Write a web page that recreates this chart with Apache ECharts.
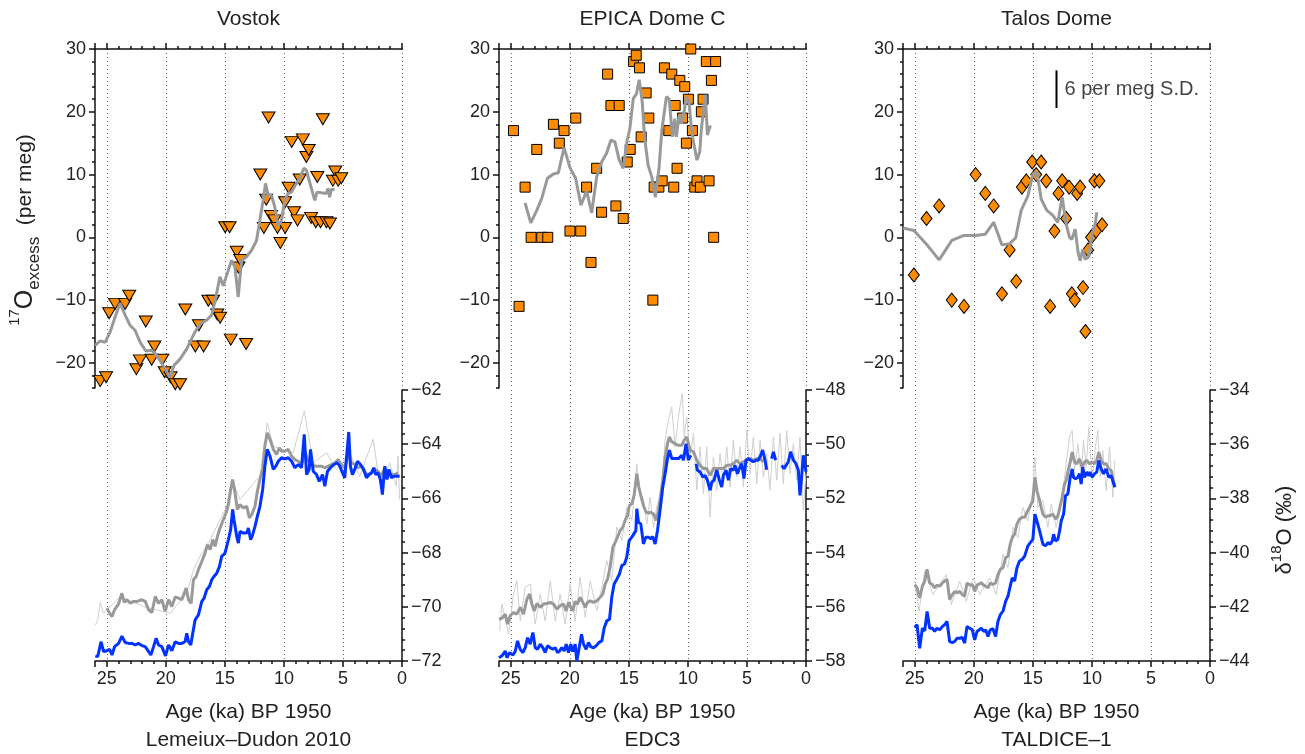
<!DOCTYPE html>
<html><head><meta charset="utf-8">
<script src="https://cdn.jsdelivr.net/npm/echarts@6/dist/echarts.min.js"></script>
<style>html,body{margin:0;padding:0;background:#fff}#c{width:1305px;height:754px}</style>
</head><body><div id="c"></div>
<script>
// ---------- tick labels ----------
const ageTicks = [0, 5, 10, 15, 20, 25];
const excessTicks = [-20, -10, 0, 10, 20, 30];
const siteNames = ['Vostok', 'EPICA Dome C', 'Talos Dome'];
const chronologies = ['Lemeiux\u2013Dudon 2010', 'EDC3', 'TALDICE\u20131'];
const d18Ranges = [[-72, -62], [-58, -48], [-44, -34]];

// ---------- 17O-excess (per meg): [age ka, value] ----------
const vostokExcess = [[25.56,-22.9],[25.06,-22.3],[24.8,-12.1],[24.3,-10.6],[23.45,-10.6],[23.1,-9.3],[21.7,-13.4],[22.5,-21.0],[22.2,-19.6],[21.2,-19.5],[20.97,-17.4],[20.3,-19.5],[20.1,-21.5],[19.6,-22.3],[19.2,-23.4],[18.8,-23.4],[18.35,-11.5],[17.5,-17.4],[17.2,-14.0],[16.8,-17.4],[16.4,-10.1],[16.0,-10.1],[15.65,-12.3],[15.4,-12.8],[14.97,1.6],[14.6,1.6],[14.5,-16.3],[14.0,-2.3],[13.85,-4.8],[13.7,-3.6],[13.2,-17.0],[12.0,10.0],[11.7,1.5],[11.5,6.0],[11.3,19.1],[11.1,3.4],[10.8,2.7],[10.55,1.5],[10.3,-0.9],[9.9,1.5],[9.9,5.6],[9.6,7.9],[9.34,15.2],[9.14,4.0],[8.85,2.7],[8.66,9.2],[8.4,15.6],[8.1,12.8],[7.9,13.9],[7.7,3.1],[7.3,2.4],[7.17,9.6],[6.9,2.4],[6.7,18.8],[6.4,2.4],[6.1,2.2],[5.85,9.0],[5.65,10.5],[5.4,9.0],[5.14,9.4]];
const vostokExcessMean = [[25.99,-17.2],[25.56,-16.5],[25.14,-16.7],[24.72,-15.1],[24.30,-12.7],[23.87,-10.5],[23.45,-12.4],[23.03,-14.0],[22.61,-14.8],[22.18,-16.7],[21.70,-18.1],[21.20,-18.0],[20.77,-18.8],[20.30,-20.2],[19.65,-22.3],[19.31,-20.4],[18.80,-19.4],[18.24,-17.8],[17.54,-15.1],[17.11,-13.8],[16.55,-13.2],[16.13,-12.4],[15.85,-10.3],[15.42,-6.3],[15.14,-7.7],[14.72,-5.3],[14.44,-3.7],[14.15,-4.7],[13.87,-9.5],[13.59,-3.7],[13.17,-3.1],[12.75,-2.1],[12.32,-0.5],[12.04,2.7],[11.76,5.9],[11.56,8.6],[11.34,6.7],[11.06,6.7],[10.77,4.8],[10.49,1.8],[10.21,2.7],[9.93,5.9],[9.65,7.0],[9.37,7.2],[8.94,8.6],[8.66,9.4],[8.32,11.0],[8.10,10.7],[7.82,8.8],[7.39,5.9],[7.20,7.2],[6.83,7.1],[6.41,7.0],[6.27,7.8],[6.13,6.4],[5.99,7.6],[5.70,7.6]];

const edcExcess = [[24.77,17],[24.3,-11],[23.79,8],[23.28,0],[22.8,14],[22.38,0],[21.87,0],[21.39,18],[20.89,15],[20.49,17],[19.99,1],[19.5,19],[19.08,1],[18.58,8],[18.21,-4],[17.73,11],[17.31,4],[16.8,26],[16.52,21],[16.1,5],[15.82,21],[15.48,3],[15.14,12],[14.89,14],[14.6,28],[14.38,29],[14.1,27],[13.96,16],[13.54,23],[13.31,19],[12.97,-10],[12.86,8],[12.46,8],[12.18,9],[11.99,27],[11.62,17],[11.37,26],[11.2,8],[11.08,21],[10.92,11],[10.69,25],[10.46,19],[10.27,24],[10.13,15],[9.96,22],[9.76,30],[9.62,17],[9.42,8],[9.23,9],[8.94,8],[8.86,20],[8.72,22],[8.44,28],[8.21,9],[8.01,25],[7.82,0],[7.65,28]];
const edcExcessMean = [[23.79,5.5],[23.31,2.3],[22.80,4.3],[22.38,6.2],[21.90,9.4],[21.39,10.1],[20.97,10.3],[20.49,14.3],[19.99,11.1],[19.51,9.4],[19.06,5.1],[18.58,7.4],[18.15,3.9],[17.73,9.6],[17.31,12.0],[16.89,13.4],[16.52,15.5],[16.18,15.2],[15.82,12.3],[15.48,11.0],[15.14,15.5],[14.92,17.3],[14.63,22.1],[14.35,22.9],[14.13,25.1],[13.87,21.6],[13.68,16.0],[13.37,11.5],[13.06,9.6],[12.75,6.4],[12.44,11.2],[12.21,17.1],[11.82,22.4],[11.59,22.0],[11.31,16.0],[11.11,18.9],[10.97,16.0],[10.75,19.5],[10.55,18.1],[10.35,19.7],[10.13,22.4],[9.90,21.6],[9.76,18.4],[9.56,15.5],[9.23,12.3],[9.00,13.6],[8.86,17.3],[8.72,17.6],[8.52,22.7],[8.35,16.3],[8.15,17.6],[8.01,17.6]];

const talosExcess = [[25.08,-6],[24.01,3],[22.94,5],[21.87,-10],[20.83,-11],[19.85,10],[19.03,7],[18.32,5],[17.62,-9],[16.97,-2],[16.41,-7],[15.93,8],[15.56,9],[15.06,12],[14.72,10],[14.3,12],[13.87,9],[13.54,-11],[13.17,1],[12.83,7],[12.52,9],[12.18,3],[11.93,8],[11.7,-9],[11.45,-10],[11.25,7],[11.0,8],[10.75,-8],[10.55,-15],[10.32,-2],[10.07,0],[9.79,9],[9.65,1],[9.37,9],[9.14,2]];
const talosExcessMean = [[25.99,1.5],[25.08,1.1],[24.01,-1.1],[22.94,-3.6],[21.87,-0.5],[20.83,0.3],[19.85,0.3],[19.03,0.5],[18.32,2.4],[17.62,-1.2],[16.97,-1.0],[16.46,-0.1],[15.99,4.3],[15.42,6.6],[15.0,10.1],[14.66,10.4],[14.30,6.1],[13.82,4.3],[13.31,3.5],[12.89,2.4],[12.52,6.4],[12.18,2.1],[11.90,0],[11.70,-0.3],[11.42,1.3],[11.17,-2.4],[11.0,-3.7],[10.77,-1.9],[10.58,-3.5],[10.27,-3.1],[9.99,0.5],[9.73,2.1],[9.59,4.0]];

// scale bar (6 per meg S.D.)
const scaleBar = [[13, 20.6], [13, 26.6]];
const scaleBarLabel = [[13, 23.6]];

// ---------- d18O (permil): raw (thin), smoothed (gray), blue ----------
const vostokD18Raw = [[25.97,-70.67],[25.77,-70.48],[25.55,-69.81],[25.32,-70.24],[24.99,-70.11],[23.86,-69.62],[21.89,-69.99],[19.63,-70.24],[18.23,-69.50],[17.66,-68.63],[17.10,-68.14],[16.25,-67.52],[14.85,-66.29],[14.42,-65.30],[13.72,-66.04],[12.03,-65.18],[11.41,-63.21],[10.90,-64.07],[9.21,-64.32],[8.28,-62.78],[7.52,-64.69],[6.39,-64.32],[5.55,-64.93],[4.42,-64.32],[3.58,-65.18],[2.45,-63.82],[1.89,-65.43],[1.04,-64.69],[0.48,-65.55],[0.34,-64.44],[0.20,-66.04]];
const vostokD18Smooth = [[24.99,-70.05],[24.76,-70.24],[24.56,-70.36],[24.34,-70.11],[24.0,-69.89],[23.72,-69.50],[23.52,-69.84],[23.30,-69.74],[23.01,-69.87],[22.73,-69.80],[22.45,-69.80],[22.03,-69.74],[21.75,-69.80],[21.46,-70.11],[21.18,-70.21],[20.90,-69.62],[20.62,-69.87],[20.34,-69.74],[20.06,-70.17],[19.77,-69.74],[19.49,-69.99],[19.21,-69.64],[18.93,-69.68],[18.65,-69.74],[18.28,-69.31],[18.08,-69.74],[17.86,-69.87],[17.66,-69.0],[17.44,-68.88],[17.24,-68.63],[16.96,-68.33],[16.68,-68.02],[16.48,-67.71],[16.25,-67.89],[16.03,-67.52],[15.83,-67.77],[15.63,-67.40],[15.41,-67.09],[15.13,-66.78],[14.90,-66.54],[14.70,-66.23],[14.51,-65.67],[14.34,-65.30],[14.14,-65.80],[13.94,-66.41],[13.72,-66.23],[13.44,-66.35],[13.15,-66.29],[12.93,-66.72],[12.73,-66.60],[12.45,-66.29],[12.25,-65.74],[12.03,-65.30],[11.80,-64.93],[11.61,-64.07],[11.41,-63.58],[11.18,-63.82],[10.90,-64.19],[10.62,-64.38],[10.39,-64.13],[10.20,-64.26],[9.92,-64.26],[9.63,-64.19],[9.35,-64.44],[9.07,-64.57],[8.79,-64.63],[8.51,-64.75],[8.23,-64.26],[7.94,-64.63],[7.66,-64.69],[7.38,-64.81],[7.10,-64.81],[6.82,-64.81],[6.54,-64.87],[6.25,-64.81],[5.97,-64.75],[5.69,-64.69],[5.41,-64.57],[5.13,-64.75],[4.85,-64.87],[4.56,-64.38],[4.28,-64.69],[4.0,-64.75],[3.72,-64.87],[3.44,-64.81],[3.15,-65.06],[2.87,-65.12],[2.59,-65.06],[2.31,-64.93],[2.03,-65.0],[1.75,-65.18],[1.46,-64.87],[1.18,-65.06],[0.90,-65.12],[0.62,-65.12],[0.34,-65.06]];
const vostokD18Blue = [[25.97,-71.81],[25.77,-71.84],[25.49,-71.29],[25.27,-71.65],[24.99,-71.62],[24.76,-71.57],[24.56,-71.78],[24.34,-71.47],[24.0,-71.35],[23.72,-71.08],[23.44,-71.32],[23.15,-71.35],[22.87,-71.35],[22.59,-71.41],[22.31,-71.35],[22.03,-71.43],[21.75,-71.47],[21.46,-71.65],[21.27,-71.78],[21.04,-71.47],[20.82,-71.16],[20.62,-71.41],[20.34,-71.47],[20.03,-71.81],[19.77,-71.41],[19.49,-71.62],[19.21,-71.29],[18.93,-71.35],[18.65,-71.35],[18.37,-71.29],[18.23,-70.98],[18.08,-71.29],[17.89,-71.41],[17.72,-70.98],[17.52,-70.48],[17.24,-70.30],[16.96,-69.81],[16.76,-69.68],[16.54,-69.37],[16.31,-69.25],[16.11,-69.0],[15.92,-68.88],[15.69,-68.76],[15.46,-68.51],[15.27,-68.14],[14.99,-68.02],[14.70,-67.52],[14.51,-67.15],[14.34,-66.41],[14.23,-66.78],[14.0,-67.40],[13.86,-67.65],[13.72,-67.22],[13.44,-67.28],[13.15,-67.28],[13.01,-67.09],[12.82,-67.52],[12.65,-67.34],[12.45,-67.03],[12.25,-66.66],[12.03,-66.29],[11.80,-65.67],[11.61,-64.81],[11.41,-64.19],[11.18,-64.44],[10.90,-64.93],[10.68,-64.81],[10.48,-64.63],[10.20,-64.50],[9.92,-64.54],[9.63,-64.50],[9.35,-64.63],[9.07,-64.87],[8.79,-64.75],[8.51,-64.87],[8.28,-63.64],[8.08,-65.12],[7.86,-64.93],[7.75,-64.19],[7.52,-65.0],[7.24,-65.12],[7.01,-65.37],[6.73,-65.12],[6.54,-65.55],[6.31,-65.0],[6.06,-64.87],[5.77,-64.75],[5.49,-64.69],[5.27,-64.81],[5.04,-65.06],[4.85,-65.24],[4.70,-64.50],[4.51,-63.55],[4.37,-64.81],[4.20,-65.12],[4.0,-64.93],[3.77,-64.63],[3.52,-64.75],[3.24,-64.93],[3.01,-65.24],[2.79,-65.12],[2.59,-65.06],[2.39,-64.87],[2.23,-65.12],[2.03,-65.06],[1.83,-65.30],[1.66,-65.86],[1.46,-64.81],[1.27,-65.30],[1.10,-64.93],[0.90,-65.24],[0.70,-65.18],[0.48,-65.18],[0.20,-65.18]];

const edcD18Raw = [[25.95,-56.89],[25.75,-55.90],[25.19,-57.01],[24.77,-55.53],[24.49,-55.04],[24.20,-56.52],[23.78,-55.28],[23.36,-55.16],[22.93,-56.64],[22.51,-55.53],[22.09,-56.52],[21.66,-55.04],[21.24,-56.52],[20.82,-55.53],[20.39,-56.64],[19.97,-55.16],[19.55,-56.52],[19.13,-54.91],[18.70,-56.40],[18.28,-55.04],[17.72,-56.15],[17.29,-55.28],[16.87,-54.30],[16.45,-55.04],[16.02,-53.06],[15.60,-53.56],[15.18,-52.32],[14.75,-52.81],[14.47,-51.58],[14.33,-50.72],[14.10,-51.70],[13.77,-52.07],[13.48,-52.94],[13.20,-51.95],[12.92,-53.06],[12.64,-52.32],[12.21,-51.70],[11.93,-49.85],[11.65,-49.11],[11.37,-48.62],[11.09,-50.10],[10.80,-48.99],[10.58,-48.37],[10.47,-48.12],[10.32,-49.73],[10.10,-48.99],[9.82,-50.47],[9.53,-49.60],[9.25,-51.70],[8.97,-50.10],[8.69,-51.83],[8.41,-50.10],[8.12,-52.69],[7.84,-50.47],[7.56,-51.70],[7.28,-50.35],[7.0,-51.46],[6.71,-50.10],[6.43,-51.58],[6.15,-49.85],[5.87,-51.21],[5.59,-50.10],[5.30,-51.58],[5.02,-49.48],[4.74,-51.09],[4.46,-49.73],[4.17,-51.46],[3.89,-49.85],[3.61,-51.21],[3.33,-50.35],[3.05,-51.70],[2.76,-49.73],[2.48,-51.33],[2.20,-49.60],[1.92,-51.46],[1.64,-49.48],[1.35,-51.09],[1.07,-49.98],[0.79,-51.33],[0.51,-49.73],[0.23,-52.44],[0,-51.09]];
const edcD18Smooth = [[26.0,-56.46],[25.75,-56.42],[25.47,-56.27],[25.27,-56.64],[25.05,-56.33],[24.77,-56.21],[24.49,-56.27],[24.20,-56.02],[23.92,-56.27],[23.64,-55.72],[23.41,-55.53],[23.22,-55.90],[23.02,-56.15],[22.79,-55.88],[22.51,-56.02],[22.23,-55.90],[21.95,-55.88],[21.66,-55.84],[21.38,-55.90],[21.10,-56.09],[20.82,-55.96],[20.54,-55.90],[20.31,-56.15],[20.11,-55.84],[19.92,-56.02],[19.75,-56.15],[19.55,-55.80],[19.35,-55.90],[19.13,-55.65],[18.90,-55.84],[18.70,-56.02],[18.51,-55.84],[18.28,-55.78],[18.0,-55.84],[17.72,-55.78],[17.43,-55.65],[17.21,-55.53],[17.01,-55.16],[16.81,-54.98],[16.59,-54.54],[16.36,-53.80],[16.16,-53.62],[15.97,-53.43],[15.74,-53.19],[15.51,-53.06],[15.32,-52.81],[15.12,-52.63],[14.95,-52.26],[14.75,-52.20],[14.56,-51.89],[14.33,-51.09],[14.16,-51.58],[13.99,-51.89],[13.77,-52.26],[13.54,-52.51],[13.34,-52.54],[13.15,-52.51],[12.92,-52.57],[12.69,-52.81],[12.50,-52.44],[12.36,-52.07],[12.13,-51.33],[11.93,-50.47],[11.73,-49.98],[11.57,-49.73],[11.37,-49.91],[11.09,-49.98],[10.80,-50.04],[10.52,-50.04],[10.32,-49.85],[10.10,-49.73],[9.82,-50.22],[9.53,-50.28],[9.25,-50.59],[8.97,-50.78],[8.69,-50.90],[8.41,-50.90],[8.12,-51.15],[7.84,-50.90],[7.56,-50.90],[7.28,-50.90],[7.0,-50.90],[6.71,-50.78],[6.43,-50.78],[6.15,-50.72],[5.87,-50.59],[5.59,-50.72],[5.30,-50.65],[5.02,-50.59],[4.74,-50.53],[4.46,-50.59],[4.17,-50.53],[3.89,-50.53],[3.61,-50.65]];
const edcD18Blue = [[26.0,-57.88],[25.75,-57.81],[25.47,-57.63],[25.33,-57.88],[25.11,-57.69],[24.82,-57.78],[24.63,-57.65],[24.43,-57.26],[24.20,-57.57],[23.98,-57.69],[23.78,-57.51],[23.58,-57.14],[23.36,-57.38],[23.13,-56.95],[22.93,-57.51],[22.74,-57.57],[22.51,-57.38],[22.28,-57.51],[22.09,-57.69],[21.89,-57.44],[21.66,-57.51],[21.44,-57.57],[21.24,-57.51],[21.04,-57.69],[20.87,-57.63],[20.68,-57.51],[20.48,-57.63],[20.31,-57.38],[20.11,-57.69],[19.92,-57.38],[19.75,-57.65],[19.55,-57.38],[19.41,-58.0],[19.21,-57.51],[19.01,-57.01],[18.84,-57.38],[18.62,-57.57],[18.42,-57.32],[18.22,-57.48],[18.0,-57.51],[17.77,-57.44],[17.55,-57.32],[17.29,-57.26],[17.09,-56.77],[16.87,-56.52],[16.64,-56.46],[16.45,-55.65],[16.25,-55.16],[16.02,-54.98],[15.80,-54.79],[15.60,-54.48],[15.37,-54.42],[15.18,-54.17],[14.98,-53.56],[14.75,-53.43],[14.61,-53.49],[14.41,-53.19],[14.33,-52.38],[14.19,-52.88],[13.99,-52.94],[13.77,-53.68],[13.57,-53.43],[13.34,-53.43],[13.15,-53.49],[12.98,-53.41],[12.78,-53.68],[12.58,-53.19],[12.36,-52.44],[12.13,-51.58],[11.93,-51.09],[11.73,-50.53],[11.57,-50.22],[11.37,-50.53],[11.09,-50.53],[10.80,-50.53],[10.52,-50.41],[10.38,-50.59],[10.16,-49.98],[9.96,-50.59],[9.76,-50.41],[9.55,null],[9.31,-50.72],[9.20,-50.96],[8.97,-51.02],[8.74,-51.21],[8.55,-51.15],[8.35,-51.33],[8.12,-51.70],[7.98,-51.40],[7.79,-51.33],[7.56,-50.96],[7.33,-51.33],[7.14,-51.58],[7.0,-51.15],[6.77,-50.96],[6.57,-51.33],[6.38,-50.90],[6.15,-50.96],[6.01,-50.78],[5.81,-51.09],[5.59,-50.84],[5.44,-50.72],[5.25,-51.27],[5.08,-50.59],[4.88,-50.53],[4.68,-50.59],[4.46,-50.65],[4.23,-50.59],[4.03,-50.59],[3.84,-50.41],[3.67,-50.22],[3.47,-50.59],[3.33,-50.94],[3.1,null],[2.91,-50.53],[2.76,-50.28],[2.57,-50.59],[2.3,null],[2.06,-50.78],[1.86,-50.90],[1.69,-50.78],[1.50,-50.65],[1.30,-50.28],[1.07,-50.59],[0.85,-50.72],[0.65,-50.96],[0.51,-51.89],[0.37,-51.21],[0.23,-50.41],[0,-51.02]];

const talosD18Raw = [[25.01,-41.05],[24.64,-42.17],[24.16,-40.68],[23.46,-41.55],[22.33,-40.81],[21.91,-41.92],[21.20,-41.05],[20.64,-41.80],[20.07,-40.93],[19.51,-41.55],[18.66,-40.93],[18.10,-41.55],[17.54,-40.06],[17.11,-40.56],[16.68,-39.07],[16.27,-39.45],[15.84,-38.33],[15.42,-38.83],[15.0,-37.71],[14.83,-36.48],[14.58,-38.33],[14.15,-38.08],[13.73,-39.07],[13.45,-38.21],[13.02,-39.07],[12.60,-38.21],[12.18,-36.72],[11.90,-35.73],[11.67,-35.49],[11.47,-36.97],[11.19,-35.98],[10.91,-37.22],[10.71,-35.86],[10.49,-36.85],[10.26,-35.36],[9.98,-37.34],[9.70,-36.10],[9.50,-35.49],[9.30,-37.22],[9.08,-36.23],[8.80,-37.71],[8.51,-36.10],[8.23,-37.96],[8.06,-36.60]];
const talosD18Smooth = [[25.01,-41.18],[24.81,-41.30],[24.59,-41.67],[24.36,-41.24],[24.16,-41.05],[23.96,-40.62],[23.74,-41.12],[23.51,-41.18],[23.32,-41.30],[23.12,-41.20],[22.89,-41.24],[22.67,-41.12],[22.47,-41.05],[22.27,-40.99],[22.05,-41.73],[21.82,-41.55],[21.62,-41.43],[21.43,-41.49],[21.20,-41.43],[20.98,-41.55],[20.78,-41.61],[20.58,-41.12],[20.35,-41.20],[20.13,-41.18],[19.93,-41.43],[19.73,-41.20],[19.57,-41.24],[19.37,-41.12],[19.17,-41.20],[19.0,-41.24],[18.80,-41.30],[18.61,-41.12],[18.38,-41.18],[18.16,-41.12],[17.96,-40.81],[17.76,-40.62],[17.54,-40.56],[17.31,-40.19],[17.11,-40.13],[16.92,-39.69],[16.75,-39.45],[16.55,-39.32],[16.35,-38.95],[16.13,-38.76],[15.90,-38.70],[15.70,-38.70],[15.51,-38.52],[15.28,-38.33],[15.14,-38.27],[15.0,-38.08],[14.83,-37.22],[14.66,-37.71],[14.43,-38.08],[14.15,-38.58],[13.93,-38.70],[13.73,-38.64],[13.53,-38.64],[13.31,-38.58],[13.08,-38.76],[12.88,-38.64],[12.74,-38.58],[12.52,-37.96],[12.32,-37.47],[12.18,-37.34],[12.04,-37.03],[11.84,-36.66],[11.67,-36.29],[11.47,-36.66],[11.28,-36.72],[11.05,-36.54],[10.83,-36.85],[10.63,-36.66],[10.43,-36.60],[10.21,-36.72],[9.98,-36.66],[9.78,-36.72],[9.59,-36.60],[9.42,-36.29],[9.22,-36.60],[9.02,-36.72],[8.80,-36.72],[8.57,-36.91],[8.37,-36.97],[8.23,-36.97],[8.06,-37.59]];
const talosD18Blue = [[25.01,-42.76],[24.81,-42.66],[24.59,-43.53],[24.36,-42.79],[24.16,-42.89],[23.96,-42.17],[23.74,-42.79],[23.51,-42.79],[23.32,-42.91],[23.12,-42.79],[22.89,-42.85],[22.67,-42.73],[22.47,-42.66],[22.27,-42.54],[22.05,-43.28],[21.82,-43.32],[21.62,-43.28],[21.43,-43.16],[21.20,-43.16],[20.98,-43.13],[20.78,-43.34],[20.58,-42.73],[20.35,-42.79],[20.13,-42.85],[19.93,-43.22],[19.73,-42.91],[19.57,-42.97],[19.37,-42.79],[19.17,-42.91],[19.0,-42.85],[18.80,-43.10],[18.61,-42.85],[18.38,-42.81],[18.16,-43.10],[17.96,-42.54],[17.76,-42.29],[17.54,-42.17],[17.31,-41.80],[17.11,-41.61],[16.92,-41.24],[16.75,-40.93],[16.55,-41.05],[16.35,-40.56],[16.13,-40.31],[15.90,-40.25],[15.70,-40.13],[15.56,-40.06],[15.42,-39.75],[15.22,-39.63],[15.0,-39.51],[14.83,-38.58],[14.66,-38.83],[14.43,-39.20],[14.15,-39.69],[13.93,-39.75],[13.73,-39.63],[13.53,-39.69],[13.36,-39.57],[13.25,-39.32],[13.08,-39.57],[12.88,-39.51],[12.74,-39.20],[12.60,-38.83],[12.40,-38.58],[12.24,-37.90],[12.04,-37.84],[11.84,-37.22],[11.67,-36.91],[11.56,-37.22],[11.39,-37.28],[11.19,-37.22],[11.05,-37.09],[10.91,-37.47],[10.77,-36.85],[10.63,-37.22],[10.43,-37.03],[10.26,-37.16],[10.15,-37.03],[9.98,-37.22],[9.78,-37.09],[9.59,-37.03],[9.42,-36.60],[9.22,-36.91],[9.02,-37.09],[8.80,-36.91],[8.57,-37.22],[8.37,-37.16],[8.23,-37.22],[8.06,-37.59]];

// ---------- build chart ----------
const FONT = 'Liberation Sans, Arial, Helvetica, sans-serif';
const INK = '#111';
const TXT = '#222';
const ORANGE = '#ff8c00';
const BLUE = '#0033ff';
const MEAN_GRAY = '#999999';
const RAW_GRAY = '#cfcfcf';
const panelLeft = [95, 499, 903];
const PW = 307, TOP_T = 49, TOP_H = 339, BOT_T = 390, BOT_H = 271;

const panelData = [
  {excess: vostokExcess, mean: vostokExcessMean, symbol: 'triangle', rot: 180, size: [13, 11], raw: vostokD18Raw, smooth: vostokD18Smooth, blue: vostokD18Blue},
  {excess: edcExcess, mean: edcExcessMean, symbol: 'rect', rot: 0, size: [10, 10], raw: edcD18Raw, smooth: edcD18Smooth, blue: edcD18Blue},
  {excess: talosExcess, mean: talosExcessMean, symbol: 'diamond', rot: 0, size: [11, 14], raw: talosD18Raw, smooth: talosD18Smooth, blue: talosD18Blue}
];

const minus = v => String(v).replace('-', '\u2212');
const lineSt = {color: INK, width: 1.5};
const labelSt = {fontSize: 18, color: TXT, fontFamily: FONT};

const grid = [], xAxis = [], yAxis = [], series = [], graphic = [];

panelLeft.forEach((L, p) => {
  grid.push({left: L, top: TOP_T, width: PW, height: TOP_H, containLabel: false, outerBoundsMode: 'none'});
  grid.push({left: L, top: BOT_T, width: PW, height: BOT_H, containLabel: false, outerBoundsMode: 'none'});
  const gTop = 2 * p, gBot = 2 * p + 1;
  const xMaj = (g, pos, lab) => ({
    type: 'value', gridIndex: g, position: pos, min: 0, max: 26, interval: 5, inverse: true,
    axisLine: {show: true, onZero: false, lineStyle: lineSt},
    axisTick: {show: true, inside: false, length: 6, lineStyle: lineSt},
    axisLabel: Object.assign({show: lab, margin: 9, formatter: v => (ageTicks.indexOf(v) >= 0 ? String(v) : '')}, labelSt),
    splitLine: {show: true, showMinLine: pos === 'top', showMaxLine: false, lineStyle: {type: [1, 3], color: '#666', width: 1}}
  });
  const xMin = (g, pos) => ({
    type: 'value', gridIndex: g, position: pos, min: 0, max: 26, interval: 1, inverse: true,
    axisLine: {show: false, onZero: false}, axisTick: {show: true, length: 3, lineStyle: lineSt},
    axisLabel: {show: false}, splitLine: {show: false}
  });
  xAxis.push(xMaj(gTop, 'top', false), xMin(gTop, 'top'), xMaj(gBot, 'bottom', true), xMin(gBot, 'bottom'));
  yAxis.push({
    type: 'value', gridIndex: gTop, position: 'left', min: -24, max: 30, interval: 2,
    axisLine: {show: true, onZero: false, lineStyle: lineSt},
    axisTick: {show: true, length: 6, lineStyle: lineSt, customValues: excessTicks},
    axisLabel: Object.assign({show: true, margin: 9, customValues: excessTicks, formatter: minus}, labelSt),
    splitLine: {show: false}
  }, {
    type: 'value', gridIndex: gTop, position: 'left', min: -24, max: 30, interval: 2,
    axisLine: {show: false, onZero: false}, axisTick: {show: true, length: 3, lineStyle: lineSt},
    axisLabel: {show: false}, splitLine: {show: false}
  }, {
    type: 'value', gridIndex: gBot, position: 'right', min: d18Ranges[p][0], max: d18Ranges[p][1], interval: 2,
    axisLine: {show: true, onZero: false, lineStyle: lineSt},
    axisTick: {show: true, length: 6, lineStyle: lineSt},
    minorTick: {show: true, splitNumber: 5, length: 3, lineStyle: lineSt},
    axisLabel: Object.assign({show: true, margin: 9, formatter: minus}, labelSt),
    splitLine: {show: false}, minorSplitLine: {show: false}
  });
  const d = panelData[p];
  const xT = 4 * p, yT = 3 * p, xB = 4 * p + 2, yB = 3 * p + 2;
  series.push({
    type: 'scatter', xAxisIndex: xT, yAxisIndex: yT, data: d.excess, symbol: d.symbol, symbolRotate: d.rot,
    symbolSize: d.size, itemStyle: {color: ORANGE, borderColor: '#000', borderWidth: 1, opacity: 1}, z: 3
  }, {
    type: 'line', xAxisIndex: xT, yAxisIndex: yT, data: d.mean, showSymbol: false, symbol: 'none',
    lineStyle: {color: MEAN_GRAY, width: 3}, z: 4
  }, {
    type: 'line', xAxisIndex: xB, yAxisIndex: yB, data: d.raw, showSymbol: false, symbol: 'none',
    lineStyle: {color: RAW_GRAY, width: 1}, z: 2
  }, {
    type: 'line', xAxisIndex: xB, yAxisIndex: yB, data: d.smooth, showSymbol: false, symbol: 'none',
    lineStyle: {color: MEAN_GRAY, width: 3}, z: 3
  }, {
    type: 'line', xAxisIndex: xB, yAxisIndex: yB, data: d.blue, showSymbol: false, symbol: 'none',
    connectNulls: false, lineStyle: {color: BLUE, width: 3}, z: 4
  });
  const cx = L + PW / 2;
  graphic.push(
    {type: 'text', x: cx, y: 19, style: {text: siteNames[p], fontSize: 21, fontFamily: FONT, fill: TXT, align: 'center', verticalAlign: 'middle'}},
    {type: 'text', x: cx, y: 712, style: {text: 'Age (ka) BP 1950', fontSize: 21, fontFamily: FONT, fill: TXT, align: 'center', verticalAlign: 'middle'}},
    {type: 'text', x: cx, y: 740, style: {text: chronologies[p], fontSize: 21, fontFamily: FONT, fill: TXT, align: 'center', verticalAlign: 'middle'}}
  );
});

// scale bar in Talos panel
series.push({
  type: 'line', xAxisIndex: 8, yAxisIndex: 6, data: scaleBar, showSymbol: false, symbol: 'none',
  lineStyle: {color: '#000', width: 2}, z: 5
}, {
  type: 'scatter', xAxisIndex: 8, yAxisIndex: 6, data: scaleBarLabel, symbolSize: 0, z: 5,
  label: {show: true, position: 'right', distance: 8, formatter: '6 per meg S.D.', fontSize: 20, fontFamily: FONT, color: '#111'}
});

// axis names
graphic.push({
  type: 'text', x: 25, y: 230, rotation: Math.PI / 2,
  style: {
    text: '{sup|17}{big|O}{sub|excess}{n|  (per meg)}', align: 'center', verticalAlign: 'middle', fill: TXT, fontFamily: FONT,
    rich: {
      sup: {fontSize: 15, fontFamily: FONT, fill: TXT, verticalAlign: 'top', lineHeight: 15},
      big: {fontSize: 25, fontFamily: FONT, fill: TXT, lineHeight: 36},
      sub: {fontSize: 17, fontFamily: FONT, fill: TXT, verticalAlign: 'bottom', lineHeight: 17},
      n: {fontSize: 21, fontFamily: FONT, fill: TXT, lineHeight: 36}
    }
  }
}, {
  type: 'text', x: 1285, y: 530, rotation: Math.PI / 2,
  style: {
    text: '{n|\u03b4}{sup|18}{n|O (\u2030)}', align: 'center', verticalAlign: 'middle', fill: TXT, fontFamily: FONT,
    rich: {
      sup: {fontSize: 15, fontFamily: FONT, fill: TXT, verticalAlign: 'top', lineHeight: 15},
      n: {fontSize: 22, fontFamily: FONT, fill: TXT, lineHeight: 32}
    }
  }
});

const chart = echarts.init(document.getElementById('c'), null, {renderer: 'canvas'});
chart.setOption({animation: false, backgroundColor: '#fff', grid, xAxis, yAxis, series, graphic});
</script></body></html>
